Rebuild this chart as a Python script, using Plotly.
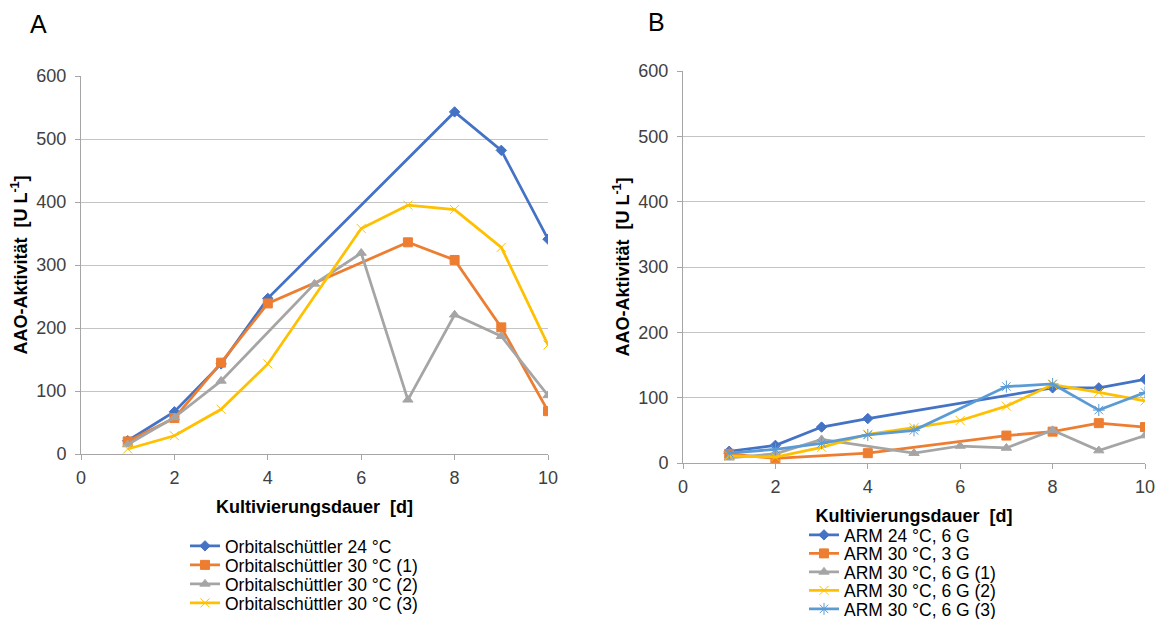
import plotly.graph_objects as go

days = [1, 2, 3, 4, 5, 6, 7, 8, 9, 10]

# Panel A: Orbitalschüttler
names_a = ["Orbitalschüttler 24 °C", "Orbitalschüttler 30 °C (1)",
           "Orbitalschüttler 30 °C (2)", "Orbitalschüttler 30 °C (3)"]
orb_24 = [21, 67, 143, 247, None, None, None, 543, 482, 341]
orb_30_1 = [20, 57, 145, 239, None, None, 336, 308, 201, 68]
orb_30_2 = [15, 58, 116, None, 270, 319, 86, 221, 187, 93]
orb_30_3 = [8, 29, 71, 143, None, 358, 395, 388, 328, 173]

# Panel B: ARM
names_b = ["ARM 24 °C, 6 G", "ARM 30 °C, 3 G", "ARM 30 °C, 6 G (1)",
           "ARM 30 °C, 6 G (2)", "ARM 30 °C, 6 G (3)"]
arm_24_6 = [18, 27, 55, 68, None, None, None, 115, 115, 128]
arm_30_3 = [14, 7, None, 15, None, None, 42, 48, 61, 55]
arm_30_6_1 = [8, 14, 36, None, 15, 26, 23, 50, 19, 42]
arm_30_6_2 = [11, 9, 24, 44, 54, 65, 87, 120, 108, 95]
arm_30_6_3 = [15, 21, 30, 43, 50, None, 117, 121, 81, 108]

x_ticks = [0, 2, 4, 6, 8, 10]
y_ticks = [0, 100, 200, 300, 400, 500, 600]

colors = ["#4472C4", "#ED7D31", "#A5A5A5", "#FFC000", "#5B9BD5"]
symbols = ["diamond", "square", "triangle-up", "x-thin-open", "asterisk-open"]
sizes = [8, 9, 9, 9, 10]

W, H = 1164, 619
FONT = "Liberation Sans, Arial, sans-serif"
legfont = dict(family=FONT, size=17.5, color="#000000")

fig = go.Figure()
legends = {}

# legend row positions (pixels) — one legend per entry
leg_a_x, leg_a_rows = 185, [546, 565, 584, 603]
leg_b_x, leg_b_rows = 804, [535, 553.5, 572, 590.5, 609]

n = 0
for i, (name, ys) in enumerate(zip(names_a, [orb_24, orb_30_1, orb_30_2, orb_30_3])):
    n += 1
    key = "legend" if n == 1 else f"legend{n}"
    fig.add_trace(go.Scatter(
        x=days, y=ys, name=name, mode="lines+markers", connectgaps=True,
        line=dict(color=colors[i], width=2.75),
        marker=dict(symbol=symbols[i], size=sizes[i], color=colors[i],
                    line=dict(color=colors[i], width=1)),
        xaxis="x", yaxis="y", legend=key, showlegend=True))
    legends[key] = dict(x=leg_a_x / W, y=1 - leg_a_rows[i] / H, xanchor="left",
                        yanchor="middle", font=legfont, bgcolor="rgba(0,0,0,0)")

for i, (name, ys) in enumerate(zip(names_b, [arm_24_6, arm_30_3, arm_30_6_1, arm_30_6_2, arm_30_6_3])):
    n += 1
    key = f"legend{n}"
    fig.add_trace(go.Scatter(
        x=days, y=ys, name=name, mode="lines+markers", connectgaps=True,
        line=dict(color=colors[i], width=2.75),
        marker=dict(symbol=symbols[i], size=sizes[i], color=colors[i],
                    line=dict(color=colors[i], width=1)),
        xaxis="x2", yaxis="y2", legend=key, showlegend=True))
    legends[key] = dict(x=leg_b_x / W, y=1 - leg_b_rows[i] / H, xanchor="left",
                        yanchor="middle", font=legfont, bgcolor="rgba(0,0,0,0)")

tickfont = dict(family=FONT, size=18, color="#404040")
titlefont = dict(family=FONT, size=18, color="#000000")

def xaxis(domain, anchor):
    return dict(domain=domain, anchor=anchor, range=[0, 10], tickvals=x_ticks,
                showgrid=False, zeroline=False, showline=True, linecolor="#a6a6a6",
                linewidth=1, ticks="outside", ticklen=5, tickcolor="#a6a6a6",
                tickfont=tickfont, automargin=False, ticklabelstandoff=2,
                title=dict(text="<b>Kultivierungsdauer  [d]</b>", font=titlefont, standoff=13))

def yaxis(domain, anchor):
    return dict(domain=domain, anchor=anchor, range=[0, 600], tickvals=y_ticks,
                showgrid=True, gridcolor="#c4c4c4", gridwidth=1, zeroline=False,
                showline=True, linecolor="#a6a6a6", linewidth=1, automargin=False,
                ticks="outside", ticklen=5, tickcolor="#a6a6a6", tickfont=tickfont,
                ticklabelstandoff=5,
                title=dict(text="<b>AAO-Aktivität  [U L<sup>-1</sup>]</b>", font=titlefont, standoff=4))

fig.update_layout(
    width=W, height=H,
    showlegend=True,
    margin=dict(l=0, r=0, t=0, b=0, autoexpand=False),
    paper_bgcolor="white", plot_bgcolor="white",
    xaxis=xaxis([81 / W, 548 / W], "y"),
    yaxis=yaxis([1 - 454 / H, 1 - 76 / H], "x"),
    xaxis2=xaxis([683 / W, 1145 / W], "y2"),
    yaxis2=yaxis([1 - 463 / H, 1 - 71 / H], "x2"),
    annotations=[
        dict(text="A", x=38 / W, y=1 - 24 / H, xref="paper", yref="paper",
             xanchor="center", yanchor="middle",
             showarrow=False, font=dict(family=FONT, size=25, color="#000")),
        dict(text="B", x=656 / W, y=1 - 22 / H, xref="paper", yref="paper",
             xanchor="center", yanchor="middle",
             showarrow=False, font=dict(family=FONT, size=25, color="#000")),
    ],
    **legends,
)

fig.write_html("out.html")
